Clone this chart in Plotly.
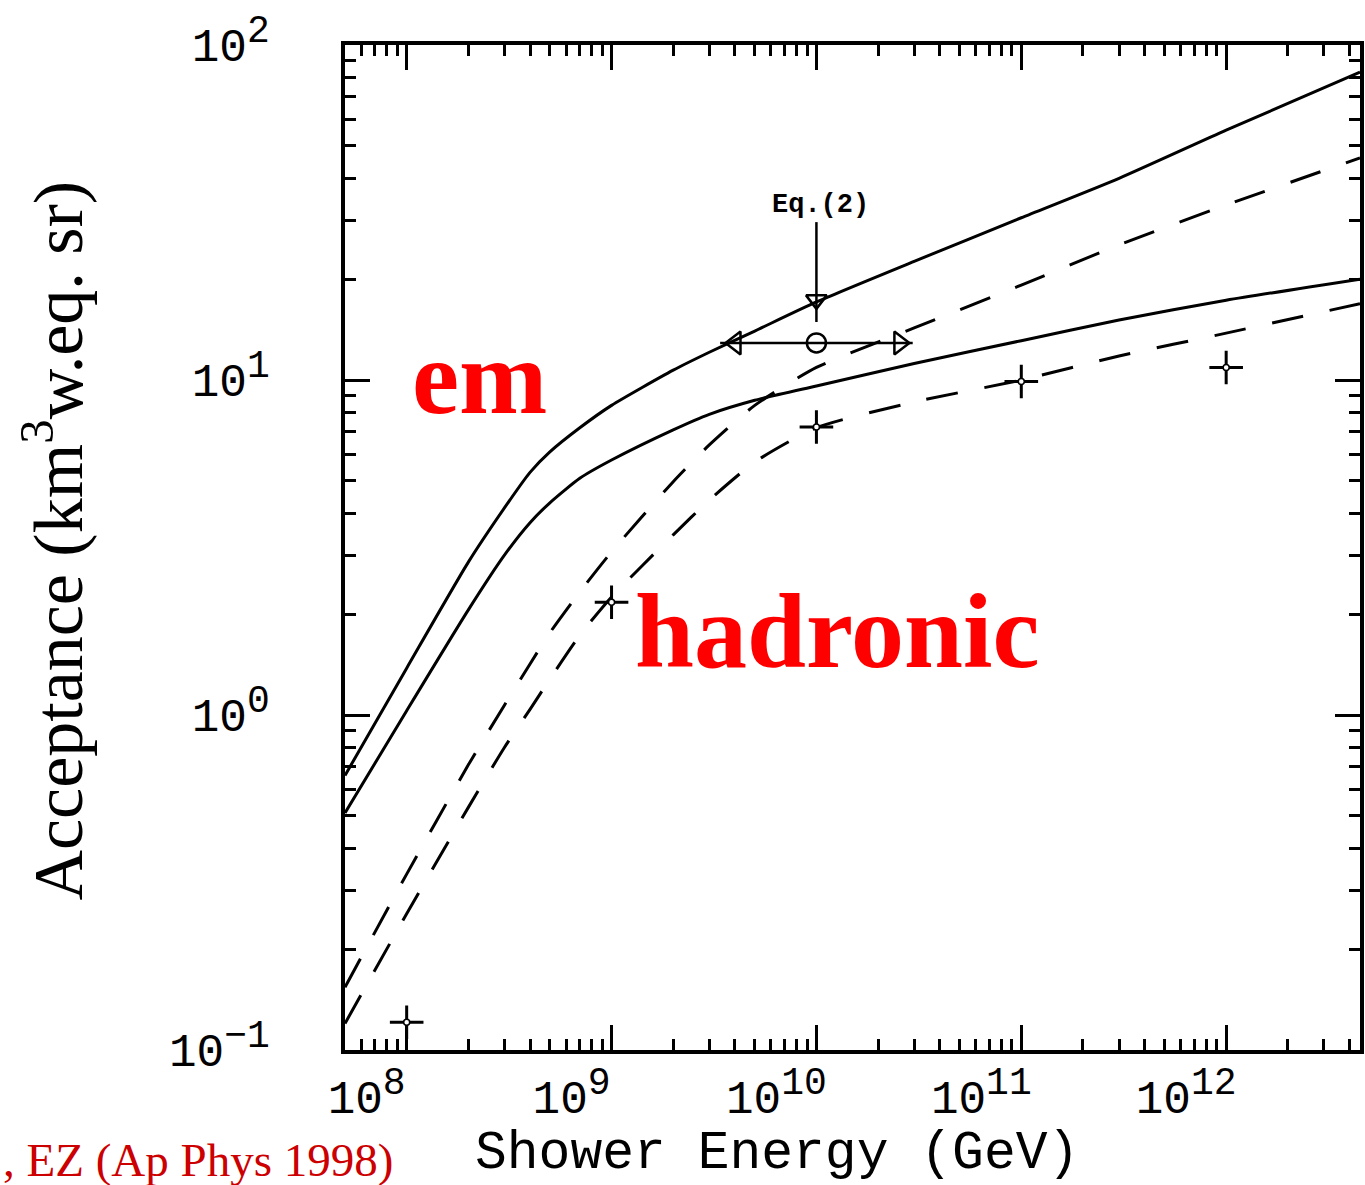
import numpy as np
import plotly.graph_objects as go

# ---- data ----
energy_gev = [5e7, 1e8, 2e8, 3e8, 4e8, 5e8, 7e8, 1e9, 2e9, 3e9, 5e9, 1e10, 3e10, 1e11, 3e11, 1e12, 4.5e12]

em_upper = [0.66, 1.38, 2.86, 4.15, 5.3, 6.1, 7.2, 8.4, 10.7, 12.1, 14.0, 17.1, 22.6, 30.5, 40.0, 55.7, 83.0]
em_lower = [0.51, 1.03, 2.06, 3.0, 3.75, 4.3, 5.09, 5.77, 7.1, 7.9, 8.7, 9.6, 11.2, 13.1, 15.1, 17.3, 20.0]
had_upper = [0.154, 0.335, 0.71, 1.07, 1.42, 1.76, 2.33, 3.07, 4.97, 6.4, 8.4, 10.9, 14.3, 19.2, 25.3, 33.3, 46.0]
had_lower = [0.12, 0.255, 0.53, 0.80, 1.04, 1.28, 1.73, 2.25, 3.45, 4.38, 5.69, 7.2, 8.6, 10.0, 11.8, 13.8, 16.9]

mc_energy = [1e8, 1e9, 1e10, 1e11, 1e12]
mc_accept = [0.121, 2.17, 7.24, 9.9, 10.9]

# Eq.(2) estimate: central point, energy spread (log10 half-width), arrow start / tip
eq2_energy = 1e10
eq2_accept = 12.9
eq2_log_halfwidth = 0.47
eq2_arrow_top = 29.6
eq2_arrow_tip = 14.9

SUP = "<sup><span style='font-size:38px'>{}</span></sup>"
x_tickvals = [1e8, 1e9, 1e10, 1e11, 1e12]
x_ticktext = ["10" + SUP.format(p) for p in ["8", "9", "10", "11", "12"]]
y_tickvals = [0.1, 1, 10, 100]
y_ticktext = ["10" + SUP.format(p) for p in ["\u22121", "0", "1", "2"]]

x_range = [np.log10(5e7), np.log10(4.5e12)]
y_range = [-1, 2]

LW = 3
dash = "32px,27px"

fig = go.Figure()

for ys, d in [(em_upper, "solid"), (em_lower, "solid"), (had_upper, dash), (had_lower, dash)]:
    fig.add_trace(go.Scatter(x=energy_gev, y=ys, mode="lines",
                             line=dict(color="black", width=LW, dash=d, shape="spline", smoothing=0.6),
                             showlegend=False, hoverinfo="skip"))

# Monte Carlo points: cross with small hollow centre
fig.add_trace(go.Scatter(x=mc_energy, y=mc_accept, mode="markers",
                         marker=dict(symbol="cross-thin-open", size=24, color="black",
                                     line=dict(color="black", width=3)),
                         showlegend=False, hoverinfo="skip"))
fig.add_trace(go.Scatter(x=mc_energy, y=mc_accept, mode="markers",
                         marker=dict(symbol="circle", size=6, color="white", line=dict(color="black", width=1.5)),
                         showlegend=False, hoverinfo="skip"))

# Eq.(2) marker with horizontal spread and vertical arrow
lo = eq2_energy / 10 ** eq2_log_halfwidth
hi = eq2_energy * 10 ** eq2_log_halfwidth
open_marker = lambda sym, size: dict(symbol=sym, size=size, color="black", line=dict(color="black", width=2.5))
fig.add_trace(go.Scatter(x=[lo, hi], y=[eq2_accept, eq2_accept], mode="lines",
                         line=dict(color="black", width=2.5), showlegend=False, hoverinfo="skip"))
fig.add_trace(go.Scatter(x=[lo * 10 ** 0.075], y=[eq2_accept], mode="markers",
                         marker=open_marker("triangle-left-open", 20), showlegend=False, hoverinfo="skip"))
fig.add_trace(go.Scatter(x=[hi / 10 ** 0.065], y=[eq2_accept], mode="markers",
                         marker=open_marker("triangle-right-open", 20), showlegend=False, hoverinfo="skip"))
fig.add_trace(go.Scatter(x=[eq2_energy], y=[eq2_accept], mode="markers",
                         marker=open_marker("circle-open", 19), showlegend=False, hoverinfo="skip"))
fig.add_trace(go.Scatter(x=[eq2_energy, eq2_energy], y=[eq2_arrow_top, eq2_arrow_tip], mode="lines",
                         line=dict(color="black", width=2.5), showlegend=False, hoverinfo="skip"))
fig.add_trace(go.Scatter(x=[eq2_energy], y=[eq2_arrow_tip * 10 ** 0.066], mode="markers",
                         marker=open_marker("triangle-down-open", 18), showlegend=False, hoverinfo="skip"))

axis_common = dict(
    type="log", showline=True, linecolor="black", linewidth=4, mirror="allticks",
    ticks="inside", ticklen=25, tickwidth=3, tickcolor="black", showgrid=False, zeroline=False,
    minor=dict(ticks="inside", ticklen=11, tickwidth=3, tickcolor="black", dtick="D1", showgrid=False),
)

fig.update_layout(
    width=1365, height=1185, autosize=False,
    margin=dict(l=345, r=1, t=45, b=135),
    paper_bgcolor="white", plot_bgcolor="white",
    xaxis=dict(**axis_common, range=x_range, tickmode="array", tickvals=x_tickvals, ticktext=x_ticktext,
               tickfont=dict(family="Liberation Mono", size=46, color="black"),
               ticklabelshift=-40, ticklabelstandoff=4),
    yaxis=dict(**axis_common, range=y_range, tickmode="array", tickvals=y_tickvals, ticktext=y_ticktext,
               tickfont=dict(family="Liberation Mono", size=46, color="black"),
               ticklabelstandoff=62),
)

annotations = [
    dict(text="Shower Energy (GeV)", xref="paper", yref="paper", x=0.426, y=-0.1035,
         xanchor="center", yanchor="middle", showarrow=False,
         font=dict(family="Liberation Mono", size=53, color="black")),
    dict(text="Acceptance (km<sup>3</sup>w.eq. sr)", xref="paper", yref="paper", x=-0.2876, y=0.507,
         xanchor="center", yanchor="middle", textangle=-90, showarrow=False,
         font=dict(family="Liberation Serif", size=70, color="black")),
    dict(text=", EZ (Ap Phys 1998)", xref="paper", yref="paper", x=0.0491, y=-0.1095,
         xanchor="right", yanchor="middle", showarrow=False,
         font=dict(family="Liberation Serif", size=47, color="#cc0000")),
    dict(text="<b>em</b>", xref="x", yref="y", x=8.355, y=1.006, xanchor="center", yanchor="middle",
         showarrow=False, font=dict(family="Liberation Serif", size=106, color="#ff0000")),
    dict(text="<b>hadronic</b>", xref="x", yref="y", x=10.104, y=0.248, xanchor="center", yanchor="middle",
         showarrow=False, font=dict(family="Liberation Serif", size=106, color="#ff0000")),
    dict(text="<b>Eq.(2)</b>", xref="x", yref="y", x=10.022, y=np.log10(33.3), xanchor="center", yanchor="middle",
         showarrow=False, font=dict(family="Liberation Mono", size=27, color="black")),
]
fig.update_layout(annotations=annotations)

fig.write_html("out.html")
